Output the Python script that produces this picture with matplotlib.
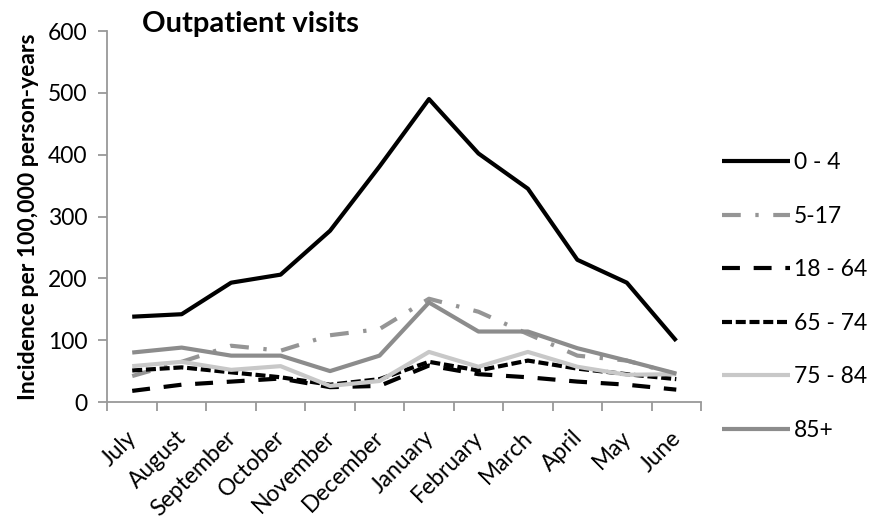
import matplotlib
matplotlib.use("Agg")
import matplotlib.pyplot as plt
import matplotlib.transforms as mtrans
import numpy as np

months = ["July", "August", "September", "October", "November", "December",
          "January", "February", "March", "April", "May", "June"]
age_0_4 = [138, 142, 193, 206, 277, 381, 490, 402, 345, 230, 193, 99]
age_5_17 = [42, 65, 91, 83, 108, 118, 167, 146, 110, 75, 67, 45]
age_18_64 = [18, 28, 33, 38, 24, 26, 59, 45, 40, 33, 28, 20]
age_65_74 = [51, 56, 48, 40, 28, 37, 65, 51, 67, 54, 45, 37]
age_75_84 = [58, 65, 52, 58, 26, 34, 81, 57, 81, 57, 44, 45]
age_85p = [80, 88, 75, 75, 50, 75, 161, 114, 114, 87, 67, 46]
yticks = [0, 100, 200, 300, 400, 500, 600]

plt.rcParams['font.family'] = ['Lato', 'DejaVu Sans']
FS = 16.5

fig = plt.figure(figsize=(8.81, 5.21), dpi=100)
ax = fig.add_axes([0.122, 0.2284, 0.6737, 0.712])
x = np.arange(len(months))

series = [
    ("0 - 4", age_0_4, dict(color="black", lw=3.0, ls="-")),
    ("5-17", age_5_17, dict(color="#959595", lw=3.0, ls=(0, (4.5, 3.5, 0.8, 3.5)))),
    ("18 - 64", age_18_64, dict(color="black", lw=3.0, ls=(0, (4.3, 3.3)))),
    ("65 - 74", age_65_74, dict(color="black", lw=3.0, ls=(0, (2.4, 0.9)))),
    ("75 - 84", age_75_84, dict(color="#c8c8c8", lw=3.0, ls="-")),
    ("85+", age_85p, dict(color="#8c8c8c", lw=3.0, ls="-")),
]
for label, vals, st in series:
    ax.plot(x, vals, label=label, solid_capstyle="butt", dash_capstyle="butt", **st)

ax.set_xlim(-0.5, len(months) - 0.5)
ax.set_ylim(0, 600)
ax.set_yticks(yticks)
ax.set_yticklabels([str(v) for v in yticks], fontsize=FS)
ax.set_xticks(x)
ax.set_xticklabels(months, rotation=45, ha="right", rotation_mode="anchor", fontsize=FS)
ax.tick_params(axis="x", length=0, pad=18)
offset = mtrans.ScaledTranslation(-6 / 100, 0, fig.dpi_scale_trans)
for lab in ax.get_xticklabels():
    lab.set_transform(lab.get_transform() + offset)
ax.set_xticks(np.arange(-0.5, len(months)), minor=True)
ax.tick_params(axis="x", which="minor", length=6.5, color="#999999", width=1.3)
ax.tick_params(axis="y", length=6.5, color="#999999", width=1.3, pad=8)
for s in ["top", "right"]:
    ax.spines[s].set_visible(False)
for s in ["left", "bottom"]:
    ax.spines[s].set_color("#999999")
    ax.spines[s].set_linewidth(1.3)

ax.set_ylabel("Incidence per 100,000 person-years", fontsize=FS, fontweight="bold", labelpad=6)
fig.text(0.161, 0.954, "Outpatient visits", fontsize=21, fontweight="bold", ha="left", va="center")

leg = ax.legend(loc="center left", bbox_to_anchor=(1.0, 0.284), frameon=False,
                fontsize=FS, handlelength=3.0, handletextpad=0.15, labelspacing=1.42)

fig.savefig("out.png", dpi=100)
